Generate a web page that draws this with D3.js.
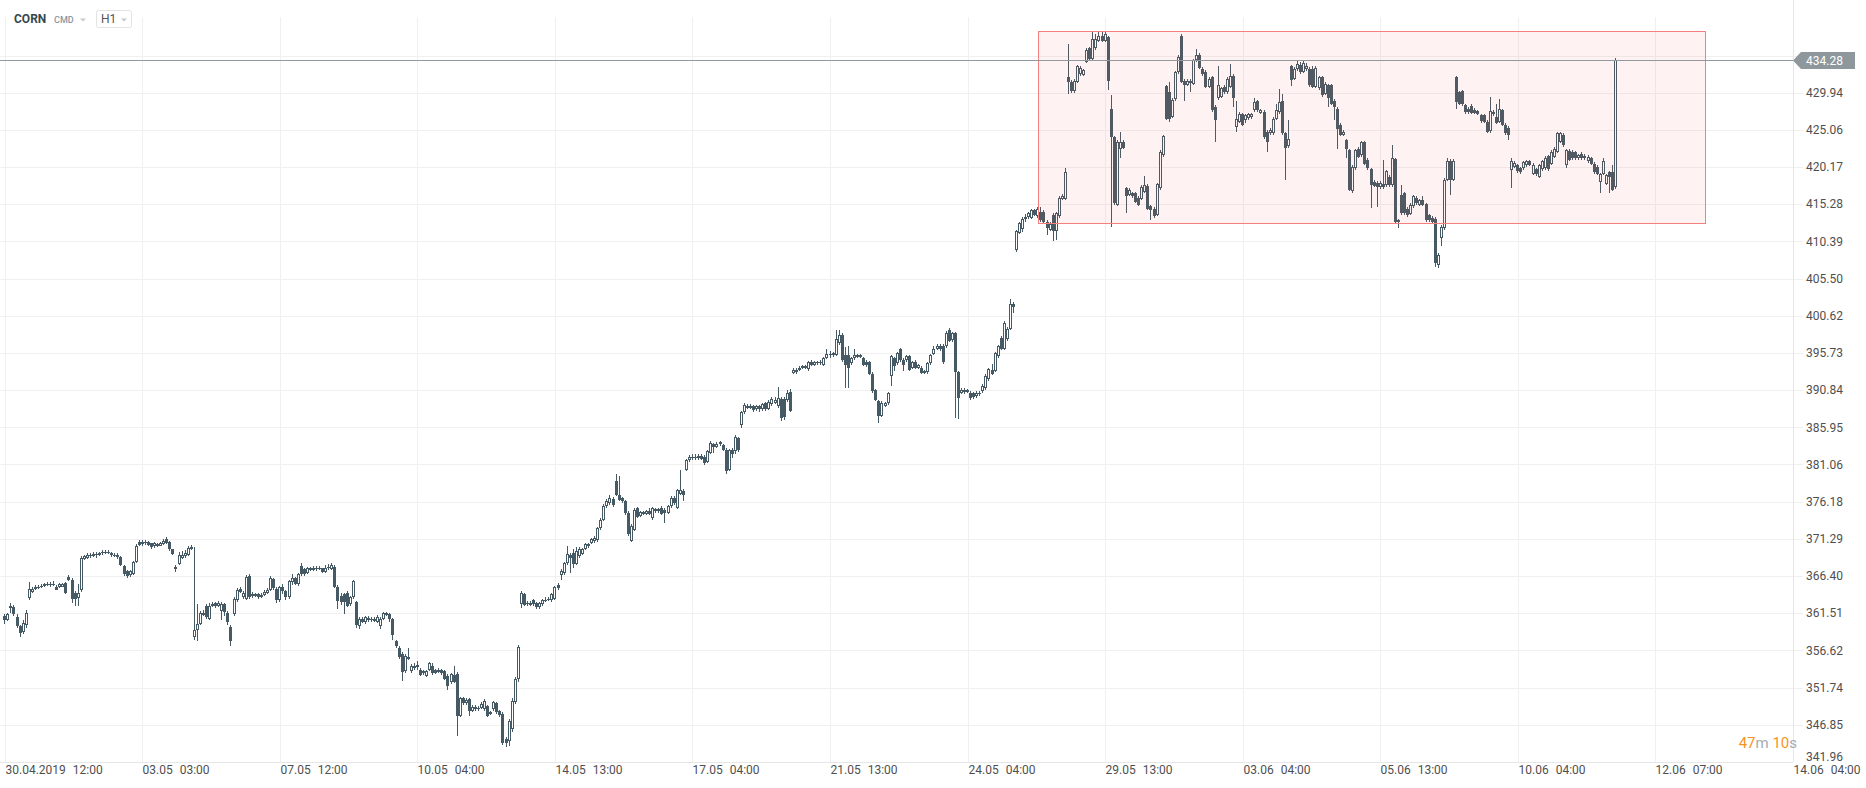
<!DOCTYPE html>
<html><head><meta charset="utf-8">
<script src="https://cdn.jsdelivr.net/npm/d3@7"></script>
<style>
html,body{margin:0;padding:0;background:#fff;}
svg{display:block;font-family:Roboto,"Noto Sans",sans-serif;}
</style></head><body>
<svg id="chart" width="1866" height="788"></svg>
<script>
// ---------------- DATA ----------------
const symbol = "CORN";
const market = "CMD";
const interval = "H1";

const opens = [
361.2,360.6,362.2,362.3,361.0,359.8,359.0,359.9,363.5,364.3,
364.7,365.0,364.9,365.1,365.3,365.4,365.2,365.0,364.9,365.0,
365.5,366.3,365.9,364.2,363.5,364.5,368.7,368.8,369.2,369.0,
369.3,369.1,369.4,369.6,369.4,369.4,369.1,369.2,368.9,367.7,
367.0,366.5,366.7,368.3,370.9,370.6,370.9,370.9,370.7,370.3,
370.6,370.4,370.6,371.2,370.9,369.9,367.3,368.0,368.8,369.0,
369.2,370.0,358.4,359.3,360.1,361.6,362.5,360.8,362.5,362.8,
362.5,361.8,362.7,361.6,359.7,361.4,363.3,364.7,363.6,363.4,
366.4,363.8,364.0,364.0,363.6,363.9,364.1,364.6,366.0,364.7,
363.2,364.9,364.4,363.6,365.6,366.1,365.3,367.7,367.3,366.8,
367.4,367.2,367.5,367.3,367.4,366.9,367.6,367.3,367.6,365.0,
363.8,364.0,364.2,362.7,363.6,363.0,359.8,360.8,360.3,360.9,
360.6,360.8,360.4,359.8,360.8,361.5,361.4,360.7,357.8,357.0,
356.2,353.9,355.8,353.9,354.6,354.5,354.0,353.9,353.3,354.0,
354.6,354.0,353.8,354.0,353.9,353.3,352.4,353.4,353.5,348.0,
350.3,349.7,350.2,348.7,349.2,348.9,349.1,348.9,349.3,348.5,
348.9,349.7,348.6,348.3,345.0,344.7,346.3,349.9,352.8,362.7,
364.0,362.7,362.9,363.2,362.8,362.3,362.7,363.2,363.3,363.2,
363.4,365.2,366.5,366.8,368.1,369.2,369.4,368.0,369.0,369.3,
370.0,370.6,370.8,371.0,371.1,372.7,373.8,375.6,376.0,376.5,
378.9,377.1,376.6,376.2,374.7,371.0,372.5,375.3,374.3,374.8,
374.6,374.9,374.0,375.2,374.9,375.4,375.1,374.7,375.6,376.7,
375.4,377.2,377.6,380.4,381.6,381.9,382.1,381.9,382.2,382.1,
381.4,382.6,383.7,383.4,383.8,383.6,383.0,380.4,383.0,382.8,
384.5,386.3,387.9,388.8,388.5,388.7,388.3,388.7,388.3,389.1,
388.4,389.0,389.2,388.7,389.7,389.7,389.5,390.6,393.1,393.2,
393.5,393.8,394.0,393.6,394.6,394.2,394.5,394.4,394.2,395.1,
395.6,395.4,395.5,397.0,398.1,395.5,395.5,394.4,395.0,395.4,
395.2,395.0,394.6,394.5,393.0,390.8,389.4,387.5,388.8,389.1,
392.7,395.0,394.4,396.2,394.8,394.8,395.3,393.8,394.6,393.8,
393.8,393.1,393.2,394.4,395.6,396.3,396.6,396.7,396.6,398.8,
397.4,398.3,393.2,390.5,390.9,390.6,390.5,390.4,390.0,390.5,
390.7,391.1,392.3,393.5,393.4,395.3,397.7,396.3,397.5,398.9,
402.2,409.2,411.5,412.0,413.3,413.6,413.5,414.5,413.7,414.3,
414.3,413.0,411.9,413.9,411.8,413.7,416.0,416.0,432.0,431.4,
430.1,431.4,432.4,432.3,434.0,435.8,434.4,435.8,436.8,437.4,
436.8,437.2,427.8,424.1,415.2,422.6,423.5,417.4,416.5,416.7,
416.7,416.1,416.0,416.9,417.7,415.0,414.7,413.9,417.4,421.7,
430.8,430.0,426.8,429.1,432.6,437.4,431.5,431.0,431.5,431.1,
434.2,434.9,433.1,432.7,430.7,432.0,428.1,429.2,429.4,430.7,
430.0,430.7,432.2,425.4,426.1,427.1,426.3,426.6,426.7,427.6,
428.8,427.3,427.4,424.8,424.6,424.6,426.5,427.4,428.9,424.6,
422.9,433.4,431.8,433.0,433.6,432.7,433.0,433.1,433.1,430.7,
430.5,432.0,429.8,430.9,430.9,428.9,427.8,425.7,424.4,423.7,
422.4,417.0,420.0,422.6,421.7,423.4,421.1,419.9,418.2,418.1,
417.5,418.0,417.8,418.9,417.8,421.2,413.0,416.5,416.7,414.7,
414.0,415.0,416.1,415.2,415.8,415.3,413.8,413.5,413.4,407.3,
410.8,412.1,418.5,421.0,418.5,432.0,430.0,430.1,428.3,427.8,
428.2,427.7,427.5,427.0,427.0,426.1,424.9,427.1,426.7,426.1,
427.6,425.7,425.3,419.8,420.2,420.4,420.0,420.0,420.4,420.9,
419.3,419.9,418.9,419.9,420.0,421.6,420.6,421.5,422.2,423.5,
424.4,420.4,422.3,422.2,422.1,421.3,421.9,421.3,420.9,421.3,
420.6,420.2,418.2,419.3,418.0,419.5,419.5,417.5
];

const highs = [
361.4,361.5,362.8,362.6,361.4,360.0,360.6,361.9,365.6,364.9,
365.2,365.2,365.3,365.5,365.6,365.6,365.7,365.2,365.5,365.5,
365.6,366.5,366.1,364.4,365.3,369.0,369.2,369.4,369.4,369.5,
369.5,369.6,369.8,369.8,369.8,369.6,369.4,369.4,369.0,367.9,
367.2,367.2,368.4,370.6,371.1,371.1,371.1,371.0,370.8,370.9,
370.8,370.9,371.2,371.5,371.0,370.0,367.9,369.5,369.7,369.8,
370.3,370.5,370.2,362.7,361.8,361.9,362.7,362.8,363.0,363.0,
363.1,363.0,362.9,361.8,360.0,363.6,364.8,364.9,364.4,366.5,
366.7,364.3,364.2,364.2,364.1,364.5,364.8,366.4,366.2,364.9,
365.1,365.4,364.6,365.9,366.7,366.3,366.8,368.1,367.5,367.6,
367.6,367.7,367.7,367.7,367.5,367.8,368.0,368.1,367.8,365.2,
364.1,364.2,364.4,363.8,365.9,363.1,361.0,361.0,361.2,361.1,
361.0,361.0,361.3,361.0,361.7,361.7,361.6,360.9,358.0,357.2,
356.4,356.1,357.0,354.8,355.0,355.2,354.3,354.1,354.1,355.1,
354.9,354.2,354.3,354.2,354.1,353.5,353.7,354.6,353.8,350.5,
350.5,350.3,350.4,349.4,349.4,349.3,349.8,350.2,349.5,348.7,
350.0,349.9,348.8,348.5,345.2,347.6,350.3,353.1,357.3,364.4,
364.2,363.1,363.1,363.4,363.0,363.0,363.4,363.6,363.6,364.2,
365.1,365.5,367.3,368.3,370.3,369.4,369.9,370.2,370.2,370.1,
370.8,370.8,371.4,371.6,372.9,374.0,375.9,376.5,377.0,376.8,
379.8,379.5,376.8,376.4,374.9,373.2,375.3,375.5,375.0,375.0,
375.1,375.3,375.5,375.4,375.4,375.6,375.3,375.8,376.9,376.9,
377.9,380.4,377.8,381.8,382.3,382.4,382.4,382.4,382.4,382.3,
383.0,384.1,383.9,384.0,384.2,383.8,383.2,383.1,383.2,384.9,
384.7,388.1,389.1,389.0,389.0,388.9,388.9,388.9,389.2,389.3,
389.5,389.9,389.9,391.2,389.9,389.9,390.9,391.0,393.7,393.7,
394.0,394.2,394.2,394.7,394.8,394.7,394.7,394.8,395.2,396.2,
396.0,395.9,398.8,398.8,398.3,396.5,396.6,395.2,396.2,395.6,
395.6,395.2,394.8,394.7,393.2,391.0,389.6,389.4,389.3,390.6,
395.5,395.2,395.9,396.4,395.0,395.5,395.5,394.7,394.8,394.3,
394.0,393.5,394.6,395.6,396.6,396.9,396.9,396.9,398.6,399.0,
398.5,398.5,393.4,391.1,391.1,391.0,390.7,390.6,390.7,390.7,
391.6,392.9,393.8,394.3,395.9,396.8,397.9,399.9,399.1,402.8,
402.4,411.9,413.0,413.6,414.0,414.3,414.7,414.7,414.9,414.9,
414.5,413.2,412.9,414.1,414.3,416.3,416.6,420.0,436.3,431.6,
431.7,433.6,433.4,433.1,435.8,436.0,437.9,437.6,437.9,437.9,
437.9,437.4,429.6,424.3,423.7,424.8,423.7,417.6,417.4,416.9,
416.9,416.3,417.8,419.0,417.9,415.2,414.9,418.1,422.4,424.4,
431.0,431.3,429.2,432.8,434.9,437.6,431.7,431.7,431.7,434.4,
435.7,435.1,433.3,432.9,432.0,432.2,428.3,433.5,430.7,430.9,
432.0,433.7,432.4,428.9,427.4,427.3,427.2,427.3,427.3,429.2,
429.0,427.8,427.6,425.0,425.3,426.7,428.4,430.4,429.8,424.8,
426.3,433.6,433.3,434.1,434.0,434.2,433.8,433.3,433.5,433.4,
432.2,432.2,431.3,431.1,431.1,429.1,428.0,425.9,425.0,423.9,
422.6,420.4,422.6,422.8,423.6,423.6,421.3,420.1,418.4,418.3,
418.3,421.1,419.8,419.1,423.0,421.4,413.4,417.8,416.9,414.9,
415.4,416.5,416.3,416.0,416.3,415.5,414.0,413.7,413.6,408.8,
412.5,418.7,421.3,421.2,421.2,432.2,430.2,430.3,428.5,428.0,
428.4,427.9,427.7,427.2,427.2,426.3,429.4,427.6,428.5,429.1,
427.8,425.9,425.5,421.3,420.9,420.6,420.2,421.0,421.1,421.1,
420.7,420.1,420.6,421.1,421.6,421.8,422.4,422.8,424.8,424.8,
424.6,422.6,422.5,422.4,422.3,421.9,422.2,421.9,421.7,421.5,
420.8,420.4,419.4,421.3,419.3,419.7,420.5,434.5
];

const lows = [
360.1,360.5,361.6,361.2,359.5,358.4,358.8,359.6,363.3,364.1,
364.6,364.7,364.8,365.0,365.1,365.0,365.1,364.5,364.8,364.9,
364.0,365.7,362.8,362.4,362.4,364.3,368.5,368.6,368.8,368.9,
368.8,369.0,369.2,369.3,369.3,368.9,368.9,368.7,367.7,366.4,
366.2,366.3,366.5,368.1,370.3,370.4,370.5,370.3,370.0,370.1,
370.2,370.3,370.5,370.6,369.7,369.1,366.9,367.8,368.6,368.8,
369.0,369.8,358.0,357.9,360.0,361.1,360.8,360.6,362.3,362.2,
362.3,360.6,361.2,359.9,357.2,361.2,363.0,364.1,363.4,363.2,
363.4,363.5,363.6,363.4,363.5,363.8,364.0,364.4,364.6,362.9,
363.0,364.0,363.3,363.4,365.2,365.2,365.1,366.4,366.4,366.7,
367.0,367.1,367.1,367.2,366.8,366.8,367.2,367.2,364.8,362.0,
362.6,361.4,362.3,362.5,363.4,359.6,359.4,360.2,360.1,360.4,
360.4,360.3,360.2,359.4,360.6,361.1,360.4,358.0,357.0,355.5,
352.6,353.7,355.3,353.7,354.1,354.0,353.2,353.4,353.1,353.9,
353.4,353.5,353.6,353.4,352.7,351.4,352.2,352.3,345.4,347.8,
349.4,349.5,348.0,348.5,348.7,348.7,348.9,348.7,347.8,348.1,
348.7,348.3,347.9,344.2,343.9,344.0,345.9,349.6,352.5,362.2,
362.4,362.5,362.4,362.5,362.0,362.1,362.5,363.0,363.1,363.0,
363.2,364.6,365.9,366.5,367.9,366.8,367.4,367.8,368.8,369.1,
369.8,370.1,370.6,370.8,370.9,372.5,373.6,375.4,375.8,375.5,
376.9,376.2,376.0,374.4,371.6,370.9,372.3,374.0,374.1,374.4,
374.4,374.4,373.8,374.7,374.7,374.4,373.4,374.5,375.4,375.8,
375.2,377.0,376.3,380.2,381.4,381.7,381.7,381.7,381.6,381.0,
381.2,382.4,382.6,383.2,383.5,382.8,379.8,380.2,381.9,382.5,
382.7,385.8,387.7,388.3,388.3,388.0,388.1,387.9,388.1,388.1,
388.2,388.8,389.0,388.5,386.8,386.9,389.3,387.9,392.9,393.0,
393.3,393.6,393.6,393.4,394.0,394.0,394.2,394.2,394.0,394.9,
395.0,395.2,395.3,396.8,394.6,391.1,391.1,394.2,394.8,395.0,
395.0,394.0,393.9,392.8,390.5,389.4,386.5,387.3,388.6,388.9,
391.4,393.4,394.2,394.6,393.3,394.6,393.3,393.6,393.6,393.6,
392.9,392.9,393.0,394.2,395.4,396.1,396.0,394.3,396.4,397.1,
397.2,387.2,387.0,390.3,390.3,390.4,389.6,389.7,389.8,390.1,
390.5,390.9,392.1,392.8,393.2,395.1,396.1,396.1,397.3,398.7,
401.0,409.0,411.3,411.6,413.0,413.4,413.3,413.7,413.5,412.9,
412.8,411.2,411.7,410.5,410.6,413.5,415.8,415.8,429.8,429.9,
429.9,431.2,432.2,432.1,433.8,434.2,434.2,435.6,436.6,436.6,
436.6,430.3,412.3,415.2,415.0,421.3,422.5,414.1,416.3,416.1,
415.4,415.0,415.8,416.7,414.5,413.2,413.5,413.7,417.2,421.5,
426.3,426.1,426.6,428.9,432.4,431.2,428.9,430.8,430.0,430.9,
434.0,433.0,432.2,430.5,430.5,427.4,423.5,429.0,429.2,429.8,
429.8,430.5,428.0,424.8,425.9,425.5,426.0,426.4,426.5,427.4,
427.4,427.1,423.9,422.2,424.4,424.4,426.3,427.2,424.4,418.5,
422.7,430.8,431.6,432.8,432.4,432.5,432.8,430.7,430.5,430.5,
430.3,429.4,429.6,428.1,428.3,426.3,422.6,424.2,424.2,421.3,
417.0,416.8,419.8,421.3,421.5,420.4,419.8,414.8,417.5,414.9,
417.3,417.3,417.6,417.6,417.6,412.8,412.1,413.9,413.9,413.6,
413.8,414.8,415.2,415.0,415.0,413.0,413.0,412.8,407.0,406.9,
409.8,411.9,418.3,416.5,418.3,427.8,428.3,428.2,427.2,427.2,
427.1,427.1,427.0,426.0,425.9,424.6,424.7,426.9,425.8,425.9,
425.5,424.4,423.7,417.4,420.0,419.4,419.3,419.8,420.2,420.3,
419.1,419.0,418.7,419.7,419.8,419.7,420.4,421.3,422.0,423.3,
422.8,420.0,420.9,421.1,421.1,421.1,421.1,421.1,420.7,420.4,
419.3,419.1,416.7,419.1,417.8,416.7,417.0,417.3
];

const closes = [
360.6,361.4,362.4,361.4,359.8,358.9,360.2,361.5,364.7,364.7,
365.0,364.9,365.1,365.3,365.4,365.2,365.4,364.6,365.3,365.3,
364.2,365.9,363.4,363.4,364.2,368.8,369.0,369.2,369.0,369.3,
369.1,369.4,369.6,369.4,369.6,369.1,369.2,368.9,367.9,366.6,
366.4,367.0,368.2,370.4,370.5,370.9,370.7,370.5,370.2,370.7,
370.4,370.7,371.0,370.8,369.9,369.3,367.6,369.1,369.2,369.4,
370.1,370.2,359.3,360.1,361.5,361.3,361.0,362.5,362.7,362.5,
362.8,362.7,361.7,360.3,357.9,363.4,364.5,364.3,364.2,366.3,
363.6,364.0,363.8,363.6,363.9,364.3,364.6,366.2,364.8,363.2,
364.9,364.4,363.6,365.7,366.1,365.4,366.6,366.6,366.6,367.4,
367.2,367.5,367.3,367.5,366.9,367.5,367.4,367.9,365.0,363.1,
363.0,363.0,362.5,363.6,365.7,359.9,360.8,360.4,361.0,360.6,
360.8,360.5,361.0,360.8,361.5,361.3,360.7,358.6,357.2,355.8,
353.8,355.9,355.5,354.6,354.3,354.7,353.4,353.6,353.9,354.9,
353.6,353.7,354.1,353.6,352.9,352.0,353.5,352.5,348.0,350.3,
349.7,350.1,348.7,349.2,348.9,349.1,349.6,350.0,348.0,348.3,
349.8,348.5,348.1,344.5,344.5,347.4,350.0,352.8,357.1,364.2,
362.6,362.9,362.6,362.7,362.3,362.8,363.2,363.3,363.4,364.0,
364.9,364.8,367.1,368.1,369.3,368.8,368.0,369.7,369.9,369.9,
370.6,370.3,371.2,371.4,372.7,373.7,375.6,376.2,376.6,375.7,
377.1,376.4,376.2,374.7,371.9,373.0,375.1,374.2,374.8,374.6,
374.9,374.6,375.3,374.9,375.2,374.6,374.7,375.6,376.7,376.0,
377.7,377.7,377.1,381.6,382.0,382.1,381.9,382.2,381.8,381.2,
382.8,383.9,383.4,383.8,384.0,383.0,380.2,382.9,382.5,384.7,
382.9,387.9,388.9,388.5,388.8,388.2,388.7,388.4,389.0,388.3,
389.3,389.7,389.6,389.8,387.2,387.3,390.4,388.1,393.5,393.5,
393.8,394.0,393.8,394.5,394.2,394.5,394.4,394.6,395.0,395.6,
395.4,395.7,397.5,398.1,394.8,394.2,393.8,395.0,395.4,395.2,
395.4,394.2,394.1,393.0,390.7,389.6,387.4,389.2,389.1,390.4,
395.3,394.0,395.7,394.8,394.1,395.3,393.5,394.5,393.8,394.1,
393.1,393.3,394.4,395.4,396.3,396.6,396.3,394.5,398.4,397.3,
398.3,393.2,389.8,390.9,390.6,390.8,389.8,389.9,390.5,390.3,
391.4,392.7,393.6,393.0,395.7,396.6,396.3,399.7,398.9,402.2,
401.8,411.7,412.8,413.4,413.6,414.1,414.5,413.9,414.6,413.2,
413.0,412.1,412.7,411.7,414.1,416.1,416.4,419.5,431.4,430.1,
431.5,433.4,433.2,432.9,435.6,434.4,437.0,437.0,437.4,436.8,
437.6,431.5,424.1,415.4,423.5,423.4,422.7,416.4,417.2,416.3,
415.6,415.2,417.6,417.8,414.7,414.5,413.7,417.9,422.2,424.2,
426.5,426.5,429.0,432.6,434.6,431.4,430.9,431.5,431.2,434.2,
434.9,433.2,432.4,430.7,431.8,427.6,426.3,430.9,430.5,430.0,
431.8,432.2,429.2,426.5,427.2,425.7,427.0,427.1,427.1,428.7,
427.6,427.6,424.1,423.5,425.1,426.5,427.6,428.7,424.6,422.7,
423.9,431.6,433.1,433.7,432.6,433.8,433.5,430.9,430.7,433.2,
432.0,429.6,431.1,429.2,428.5,428.1,425.2,424.4,424.8,422.5,
417.2,420.2,422.4,421.5,423.4,420.6,420.0,417.8,417.7,417.5,
418.1,417.5,419.6,417.8,421.4,413.0,413.2,414.1,414.1,413.8,
415.2,416.3,415.4,415.8,415.2,413.2,413.2,413.0,407.5,408.6,
412.3,418.5,420.9,418.5,420.9,428.7,428.5,428.4,427.4,427.4,
427.3,427.3,427.2,426.2,426.1,424.8,427.5,427.4,426.0,427.8,
425.7,424.6,424.4,421.0,420.7,419.6,419.5,420.8,420.9,420.5,
420.5,419.2,420.4,420.9,421.4,419.9,422.2,422.6,424.6,424.6,
423.0,422.4,421.1,421.3,421.3,421.7,421.3,421.6,421.5,420.6,
419.5,419.3,419.2,420.9,419.1,418.9,417.2,434.28
];

const priceTicks = ["341.96","346.85","351.74","356.62","361.51","366.40","371.29","376.18","381.06",
  "385.95","390.84","395.73","400.62","405.50","410.39","415.28","420.17","425.06","429.94"];

const timeTickDates = ["30.04.2019","03.05","07.05","10.05","14.05","17.05","21.05","24.05","29.05","03.06","05.06","10.06","12.06","14.06"];
const timeTickHours = ["12:00","03:00","12:00","04:00","13:00","04:00","13:00","04:00","13:00","04:00","13:00","04:00","07:00","04:00"];
const barsPerTick = 45;

const lastPrice = 434.28;
const zoneBars = [338.1, 556.4];
const zonePrices = [412.77, 438.01];
const countdown = ["47", "m", " 10", "s"];

// ---------------- CHART ----------------
const W = 1866, H = 788;
const plotRight = 1793, plotBottom = 762;
const svg = d3.select("#chart");

const nSlots = barsPerTick * (timeTickDates.length - 1); // 585
const x = d3.scaleLinear().domain([0, nSlots]).range([4.8, plotRight - 0.2]);
const y = d3.scaleLinear().domain([341.96, 429.94]).range([761.9, 92.7]);

const candleColor = "#455a64";
const gridColor = "#f0f0f0";

svg.append("rect").attr("width", W).attr("height", H).attr("fill", "#fff");

// horizontal grid (includes the level just above the last tick)
const gridLevels = priceTicks.map(Number);
gridLevels.push(+(gridLevels[gridLevels.length - 1] * 2 - gridLevels[gridLevels.length - 2]).toFixed(2));
const gH = svg.append("g");
gridLevels.forEach(v => {
  const yy = Math.round(y(v)) + 0.5;
  if (yy < plotBottom - 1) {
    gH.append("line").attr("x1", 0).attr("x2", 1803).attr("y1", yy).attr("y2", yy)
      .attr("stroke", gridColor).attr("stroke-width", 1);
  }
});
// vertical grid
const tickIdx = d3.range(0, nSlots + 1, barsPerTick);
tickIdx.forEach((ti, k) => {
  if (k === tickIdx.length - 1) return;
  const xx = Math.round(x(ti)) + 0.5;
  svg.append("line").attr("x1", xx).attr("x2", xx).attr("y1", 17).attr("y2", plotBottom)
    .attr("stroke", gridColor).attr("stroke-width", 1);
});
// axis lines
svg.append("line").attr("x1", plotRight + 0.5).attr("x2", plotRight + 0.5).attr("y1", 0).attr("y2", plotBottom)
  .attr("stroke", "#e6e6e6");
svg.append("line").attr("x1", 0).attr("x2", plotRight).attr("y1", plotBottom + 0.5).attr("y2", plotBottom + 0.5)
  .attr("stroke", "#e6e6e6");

// candles
const data = closes.map((c, i) => ({ i, o: opens[i], h: highs[i], l: lows[i], c }));
const gC = svg.append("g");
data.forEach(d => {
  const cx = Math.floor(x(d.i));
  const yh = Math.round(y(d.h)), yl = Math.round(y(d.l));
  gC.append("line").attr("x1", cx + 0.5).attr("x2", cx + 0.5).attr("y1", yh).attr("y2", Math.max(yl, yh + 1))
    .attr("stroke", candleColor).attr("stroke-width", 1);
  const top = Math.round(y(Math.max(d.o, d.c)));
  let bot = Math.round(y(Math.min(d.o, d.c)));
  if (bot - top < 1) bot = top + 1;
  if (d.c >= d.o) {
    gC.append("rect").attr("x", cx - 0.5).attr("y", top + 0.5).attr("width", 2)
      .attr("height", Math.max(bot - top - 1, 0.01))
      .attr("fill", "#fff").attr("stroke", candleColor).attr("stroke-width", 1);
  } else {
    gC.append("rect").attr("x", cx - 1).attr("y", top).attr("width", 3)
      .attr("height", Math.max(bot - top, 1)).attr("fill", candleColor);
  }
});

// highlighted zone
const zx0 = Math.round(x(zoneBars[0])) + 0.5, zx1 = Math.round(x(zoneBars[1])) + 0.5;
const zy0 = Math.round(y(zonePrices[1])) + 0.5, zy1 = Math.round(y(zonePrices[0])) + 0.5;
svg.append("rect").attr("x", zx0).attr("y", zy0).attr("width", zx1 - zx0).attr("height", zy1 - zy0)
  .attr("fill", "rgba(240,80,80,0.075)").attr("stroke", "#f37f7f").attr("stroke-width", 1);

// last price line
const ly = Math.round(y(lastPrice)) + 0.5;
svg.append("line").attr("x1", 0).attr("x2", plotRight).attr("y1", ly).attr("y2", ly)
  .attr("stroke", "#8f999e").attr("stroke-width", 1);

// price axis labels
const gY = svg.append("g").attr("font-size", 12).attr("fill", "#4f4f4f");
priceTicks.forEach(t => {
  const yy = Math.min(y(+t), 757);
  gY.append("text").attr("x", 1806).attr("y", yy).attr("dy", "0.35em").text(t);
});

// last price marker
svg.append("polygon")
  .attr("points", `${plotRight},${ly} ${plotRight + 8},${ly - 8.5} 1855,${ly - 8.5} 1855,${ly + 8.5} ${plotRight + 8},${ly + 8.5}`)
  .attr("fill", "#8d979c");
svg.append("text").attr("x", 1806).attr("y", ly).attr("dy", "0.35em").attr("font-size", 12)
  .attr("fill", "#fff").text(lastPrice.toFixed(2));

// time axis labels
const gX = svg.append("g").attr("font-size", 12).attr("fill", "#4f4f4f");
tickIdx.forEach((ti, k) => {
  const t = gX.append("text").attr("x", Math.round(x(ti)) + 0.5).attr("y", 774);
  t.append("tspan").text(timeTickDates[k]);
  t.append("tspan").attr("dx", 7).text(timeTickHours[k]);
});

// countdown
const cd = svg.append("text").attr("x", 1797).attr("y", 748).attr("text-anchor", "end")
  .attr("font-size", 15).attr("xml:space", "preserve").style("white-space", "pre");
countdown.forEach((s, k) => {
  cd.append("tspan").attr("fill", k % 2 === 0 ? "#f7941d" : "#a3adb3").text(s);
});

// header
svg.append("text").attr("x", 14).attr("y", 23).attr("font-size", 12).attr("font-weight", 700)
  .attr("fill", "#37474f").text(symbol);
svg.append("text").attr("x", 54).attr("y", 22.5).attr("font-size", 9).attr("font-weight", 500)
  .attr("fill", "#8797a3").text(market);
svg.append("polygon").attr("points", "80,18.5 86,18.5 83,21.5").attr("fill", "#c3c9cd");
svg.append("rect").attr("x", 96.5).attr("y", 10.5).attr("width", 35).attr("height", 17).attr("rx", 2)
  .attr("fill", "#fff").attr("stroke", "#e3e3e3");
svg.append("text").attr("x", 101).attr("y", 23).attr("font-size", 12).attr("fill", "#555").text(interval);
svg.append("polygon").attr("points", "121,18.5 127,18.5 124,21.5").attr("fill", "#c3c9cd");
</script>
</body></html>
